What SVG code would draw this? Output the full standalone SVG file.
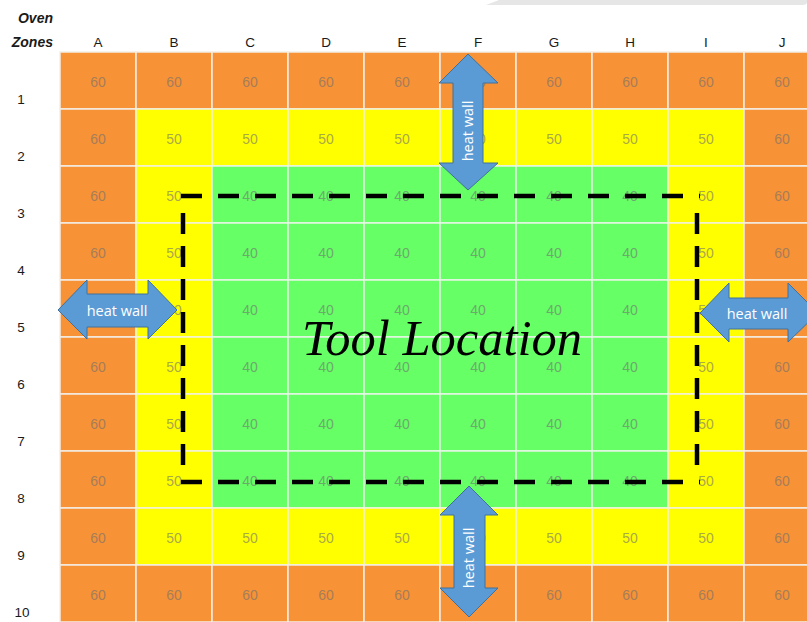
<svg xmlns="http://www.w3.org/2000/svg" width="807" height="622" viewBox="0 0 807 622">
<style>
.o{fill:#F79236;stroke:#F4EEE6;stroke-width:1.5}
.y{fill:#FFFF00;stroke:#F4F2DC;stroke-width:1.5}
.g{fill:#66FF66;stroke:#E6F6E6;stroke-width:1.5}
.v{font-family:"Liberation Sans",Arial,sans-serif;font-size:14px;fill:#707070;fill-opacity:0.62;text-anchor:middle}
.h{font-family:"Liberation Sans",Arial,sans-serif;font-size:13.5px;fill:#1a1a1a;text-anchor:middle}
.t{font-family:"Liberation Sans",Arial,sans-serif;font-size:14px;font-weight:bold;font-style:italic;fill:#1a1a1a;text-anchor:end}
.arrow{fill:#5B9BD5;stroke:#41719C;stroke-width:1}
.aw{font-family:"Open Sans","Liberation Sans",sans-serif;font-size:14.5px;fill:#FFFFFF;text-anchor:middle}
.dash{fill:none;stroke:#000;stroke-width:4.5}
</style>
<rect x="0" y="0" width="807" height="622" fill="#FFFFFF"/>
<path d="M486,5 L499,0 L807,0 L807,3 Q806,5 803,5 Z" fill="#E6E6E6"/>
<g id="header">
<text class="t" x="53" y="23">Oven</text>
<text class="t" x="53" y="47">Zones</text>
<text class="h" x="98" y="47">A</text>
<text class="h" x="174" y="47">B</text>
<text class="h" x="250" y="47">C</text>
<text class="h" x="326" y="47">D</text>
<text class="h" x="402" y="47">E</text>
<text class="h" x="478" y="47">F</text>
<text class="h" x="554" y="47">G</text>
<text class="h" x="630" y="47">H</text>
<text class="h" x="706" y="47">I</text>
<text class="h" x="782" y="47">J</text>
</g>
<g id="row-labels">
<text class="h" x="21" y="104">1</text>
<text class="h" x="21" y="161">2</text>
<text class="h" x="21" y="218">3</text>
<text class="h" x="21" y="275">4</text>
<text class="h" x="21" y="332">5</text>
<text class="h" x="21" y="389">6</text>
<text class="h" x="21" y="446">7</text>
<text class="h" x="21" y="503">8</text>
<text class="h" x="21" y="560">9</text>
<text class="h" x="22" y="617">10</text>
</g>
<g id="cells">
<g id="row1">
<rect class="o" x="60" y="52" width="76" height="57"/><rect class="o" x="136" y="52" width="76" height="57"/><rect class="o" x="212" y="52" width="76" height="57"/><rect class="o" x="288" y="52" width="76" height="57"/><rect class="o" x="364" y="52" width="76" height="57"/><rect class="o" x="440" y="52" width="76" height="57"/><rect class="o" x="516" y="52" width="76" height="57"/><rect class="o" x="592" y="52" width="76" height="57"/><rect class="o" x="668" y="52" width="76" height="57"/><rect class="o" x="744" y="52" width="76" height="57"/>
<text class="v" x="98" y="87">60</text><text class="v" x="174" y="87">60</text><text class="v" x="250" y="87">60</text><text class="v" x="326" y="87">60</text><text class="v" x="402" y="87">60</text><text class="v" x="478" y="87">60</text><text class="v" x="554" y="87">60</text><text class="v" x="630" y="87">60</text><text class="v" x="706" y="87">60</text><text class="v" x="782" y="87">60</text>
</g>
<g id="row2">
<rect class="o" x="60" y="109" width="76" height="57"/><rect class="y" x="136" y="109" width="76" height="57"/><rect class="y" x="212" y="109" width="76" height="57"/><rect class="y" x="288" y="109" width="76" height="57"/><rect class="y" x="364" y="109" width="76" height="57"/><rect class="y" x="440" y="109" width="76" height="57"/><rect class="y" x="516" y="109" width="76" height="57"/><rect class="y" x="592" y="109" width="76" height="57"/><rect class="y" x="668" y="109" width="76" height="57"/><rect class="o" x="744" y="109" width="76" height="57"/>
<text class="v" x="98" y="144">60</text><text class="v" x="174" y="144">50</text><text class="v" x="250" y="144">50</text><text class="v" x="326" y="144">50</text><text class="v" x="402" y="144">50</text><text class="v" x="478" y="144">50</text><text class="v" x="554" y="144">50</text><text class="v" x="630" y="144">50</text><text class="v" x="706" y="144">50</text><text class="v" x="782" y="144">60</text>
</g>
<g id="row3">
<rect class="o" x="60" y="166" width="76" height="57"/><rect class="y" x="136" y="166" width="76" height="57"/><rect class="g" x="212" y="166" width="76" height="57"/><rect class="g" x="288" y="166" width="76" height="57"/><rect class="g" x="364" y="166" width="76" height="57"/><rect class="g" x="440" y="166" width="76" height="57"/><rect class="g" x="516" y="166" width="76" height="57"/><rect class="g" x="592" y="166" width="76" height="57"/><rect class="y" x="668" y="166" width="76" height="57"/><rect class="o" x="744" y="166" width="76" height="57"/>
<text class="v" x="98" y="201">60</text><text class="v" x="174" y="201">50</text><text class="v" x="250" y="201">40</text><text class="v" x="326" y="201">40</text><text class="v" x="402" y="201">40</text><text class="v" x="478" y="201">40</text><text class="v" x="554" y="201">40</text><text class="v" x="630" y="201">40</text><text class="v" x="706" y="201">50</text><text class="v" x="782" y="201">60</text>
</g>
<g id="row4">
<rect class="o" x="60" y="223" width="76" height="57"/><rect class="y" x="136" y="223" width="76" height="57"/><rect class="g" x="212" y="223" width="76" height="57"/><rect class="g" x="288" y="223" width="76" height="57"/><rect class="g" x="364" y="223" width="76" height="57"/><rect class="g" x="440" y="223" width="76" height="57"/><rect class="g" x="516" y="223" width="76" height="57"/><rect class="g" x="592" y="223" width="76" height="57"/><rect class="y" x="668" y="223" width="76" height="57"/><rect class="o" x="744" y="223" width="76" height="57"/>
<text class="v" x="98" y="258">60</text><text class="v" x="174" y="258">50</text><text class="v" x="250" y="258">40</text><text class="v" x="326" y="258">40</text><text class="v" x="402" y="258">40</text><text class="v" x="478" y="258">40</text><text class="v" x="554" y="258">40</text><text class="v" x="630" y="258">40</text><text class="v" x="706" y="258">50</text><text class="v" x="782" y="258">60</text>
</g>
<g id="row5">
<rect class="o" x="60" y="280" width="76" height="57"/><rect class="y" x="136" y="280" width="76" height="57"/><rect class="g" x="212" y="280" width="76" height="57"/><rect class="g" x="288" y="280" width="76" height="57"/><rect class="g" x="364" y="280" width="76" height="57"/><rect class="g" x="440" y="280" width="76" height="57"/><rect class="g" x="516" y="280" width="76" height="57"/><rect class="g" x="592" y="280" width="76" height="57"/><rect class="y" x="668" y="280" width="76" height="57"/><rect class="o" x="744" y="280" width="76" height="57"/>
<text class="v" x="98" y="315">60</text><text class="v" x="174" y="315">50</text><text class="v" x="250" y="315">40</text><text class="v" x="326" y="315">40</text><text class="v" x="402" y="315">40</text><text class="v" x="478" y="315">40</text><text class="v" x="554" y="315">40</text><text class="v" x="630" y="315">40</text><text class="v" x="706" y="315">50</text><text class="v" x="782" y="315">60</text>
</g>
<g id="row6">
<rect class="o" x="60" y="337" width="76" height="57"/><rect class="y" x="136" y="337" width="76" height="57"/><rect class="g" x="212" y="337" width="76" height="57"/><rect class="g" x="288" y="337" width="76" height="57"/><rect class="g" x="364" y="337" width="76" height="57"/><rect class="g" x="440" y="337" width="76" height="57"/><rect class="g" x="516" y="337" width="76" height="57"/><rect class="g" x="592" y="337" width="76" height="57"/><rect class="y" x="668" y="337" width="76" height="57"/><rect class="o" x="744" y="337" width="76" height="57"/>
<text class="v" x="98" y="372">60</text><text class="v" x="174" y="372">50</text><text class="v" x="250" y="372">40</text><text class="v" x="326" y="372">40</text><text class="v" x="402" y="372">40</text><text class="v" x="478" y="372">40</text><text class="v" x="554" y="372">40</text><text class="v" x="630" y="372">40</text><text class="v" x="706" y="372">50</text><text class="v" x="782" y="372">60</text>
</g>
<g id="row7">
<rect class="o" x="60" y="394" width="76" height="57"/><rect class="y" x="136" y="394" width="76" height="57"/><rect class="g" x="212" y="394" width="76" height="57"/><rect class="g" x="288" y="394" width="76" height="57"/><rect class="g" x="364" y="394" width="76" height="57"/><rect class="g" x="440" y="394" width="76" height="57"/><rect class="g" x="516" y="394" width="76" height="57"/><rect class="g" x="592" y="394" width="76" height="57"/><rect class="y" x="668" y="394" width="76" height="57"/><rect class="o" x="744" y="394" width="76" height="57"/>
<text class="v" x="98" y="429">60</text><text class="v" x="174" y="429">50</text><text class="v" x="250" y="429">40</text><text class="v" x="326" y="429">40</text><text class="v" x="402" y="429">40</text><text class="v" x="478" y="429">40</text><text class="v" x="554" y="429">40</text><text class="v" x="630" y="429">40</text><text class="v" x="706" y="429">50</text><text class="v" x="782" y="429">60</text>
</g>
<g id="row8">
<rect class="o" x="60" y="451" width="76" height="57"/><rect class="y" x="136" y="451" width="76" height="57"/><rect class="g" x="212" y="451" width="76" height="57"/><rect class="g" x="288" y="451" width="76" height="57"/><rect class="g" x="364" y="451" width="76" height="57"/><rect class="g" x="440" y="451" width="76" height="57"/><rect class="g" x="516" y="451" width="76" height="57"/><rect class="g" x="592" y="451" width="76" height="57"/><rect class="y" x="668" y="451" width="76" height="57"/><rect class="o" x="744" y="451" width="76" height="57"/>
<text class="v" x="98" y="486">60</text><text class="v" x="174" y="486">50</text><text class="v" x="250" y="486">40</text><text class="v" x="326" y="486">40</text><text class="v" x="402" y="486">40</text><text class="v" x="478" y="486">40</text><text class="v" x="554" y="486">40</text><text class="v" x="630" y="486">40</text><text class="v" x="706" y="486">50</text><text class="v" x="782" y="486">60</text>
</g>
<g id="row9">
<rect class="o" x="60" y="508" width="76" height="57"/><rect class="y" x="136" y="508" width="76" height="57"/><rect class="y" x="212" y="508" width="76" height="57"/><rect class="y" x="288" y="508" width="76" height="57"/><rect class="y" x="364" y="508" width="76" height="57"/><rect class="y" x="440" y="508" width="76" height="57"/><rect class="y" x="516" y="508" width="76" height="57"/><rect class="y" x="592" y="508" width="76" height="57"/><rect class="y" x="668" y="508" width="76" height="57"/><rect class="o" x="744" y="508" width="76" height="57"/>
<text class="v" x="98" y="543">60</text><text class="v" x="174" y="543">50</text><text class="v" x="250" y="543">50</text><text class="v" x="326" y="543">50</text><text class="v" x="402" y="543">50</text><text class="v" x="478" y="543">50</text><text class="v" x="554" y="543">50</text><text class="v" x="630" y="543">50</text><text class="v" x="706" y="543">50</text><text class="v" x="782" y="543">60</text>
</g>
<g id="row10">
<rect class="o" x="60" y="565" width="76" height="57"/><rect class="o" x="136" y="565" width="76" height="57"/><rect class="o" x="212" y="565" width="76" height="57"/><rect class="o" x="288" y="565" width="76" height="57"/><rect class="o" x="364" y="565" width="76" height="57"/><rect class="o" x="440" y="565" width="76" height="57"/><rect class="o" x="516" y="565" width="76" height="57"/><rect class="o" x="592" y="565" width="76" height="57"/><rect class="o" x="668" y="565" width="76" height="57"/><rect class="o" x="744" y="565" width="76" height="57"/>
<text class="v" x="98" y="600">60</text><text class="v" x="174" y="600">60</text><text class="v" x="250" y="600">60</text><text class="v" x="326" y="600">60</text><text class="v" x="402" y="600">60</text><text class="v" x="478" y="600">60</text><text class="v" x="554" y="600">60</text><text class="v" x="630" y="600">60</text><text class="v" x="706" y="600">60</text><text class="v" x="782" y="600">60</text>
</g>
</g>
<g id="tool-location-box">
<line class="dash" x1="181" y1="196" x2="700" y2="196" stroke-dasharray="21 16"/>
<line class="dash" x1="181" y1="482" x2="700" y2="482" stroke-dasharray="21 16"/>
<line class="dash" x1="183" y1="213" x2="183" y2="470" stroke-dasharray="21 12"/>
<line class="dash" x1="697" y1="213" x2="697" y2="470" stroke-dasharray="21 12"/>
</g>
<g id="arrow-top">
<path class="arrow" d="M468,54 L498,83 L483,83 L483,163 L498,163 L468,190 L439,163 L453,163 L453,83 L439,83 Z"/>
<text class="aw" transform="translate(473,131) rotate(-90)">heat wall</text>
</g>
<g id="arrow-bottom">
<path class="arrow" d="M469,486 L498,515 L485,515 L485,588 L498,588 L469,617 L440,588 L454,588 L454,515 L440,515 Z"/>
<text class="aw" transform="translate(474,558) rotate(-90)">heat wall</text>
</g>
<g id="arrow-left">
<path class="arrow" d="M58,310 L87,280 L87,294 L148,294 L148,280 L177,310 L148,339 L148,327 L87,327 L87,339 Z"/>
<text class="aw" x="117" y="316">heat wall</text>
</g>
<g id="arrow-right">
<path class="arrow" d="M700,313 L729,283 L729,298 L788,298 L788,283 L818,313 L788,342 L788,329 L729,329 L729,342 Z"/>
<text class="aw" x="757" y="319">heat wall</text>
</g>
<g id="tool-location">
<text x="442" y="355" font-family="'Liberation Serif','Times New Roman',serif" font-style="italic" font-size="50.5" fill="#000" text-anchor="middle">Tool Location</text>
</g>
</svg>
